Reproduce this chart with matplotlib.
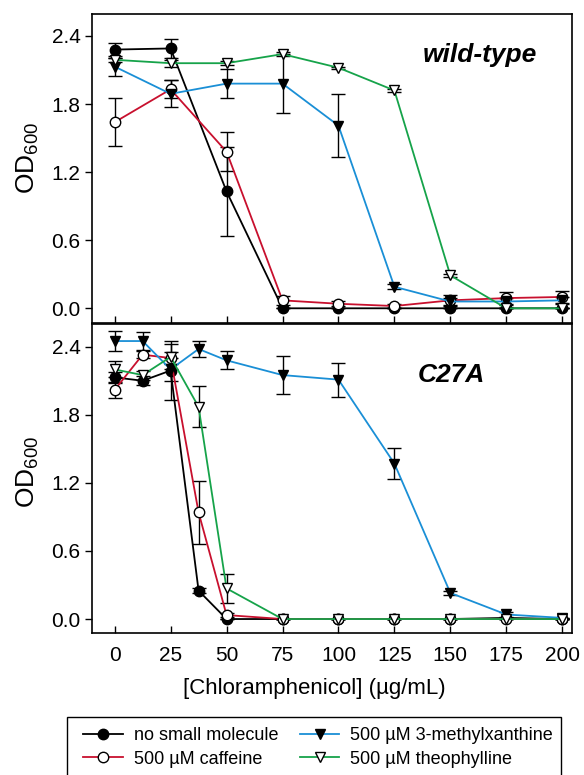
import numpy as np
import matplotlib
matplotlib.use("Agg")
import matplotlib.pyplot as plt
from matplotlib.patches import Rectangle

plt.rcParams['font.family'] = ['Liberation Sans', 'DejaVu Sans']
plt.rcParams['mathtext.fontset'] = 'custom'
plt.rcParams['mathtext.rm'] = 'Liberation Sans'

# 氯霉素浓度 (µg/mL)
x_wt = [0, 25, 50, 75, 100, 125, 150, 175, 200]
x_mut = [0, 12.5, 25, 37.5, 50, 75, 100, 125, 150, 175, 200]

# wild-type 数据
wt_none = [2.28, 2.29, 1.03, 0.0, 0.0, 0.0, 0.0, 0.0, 0.0]
wt_none_err = [0.06, 0.08, 0.39, 0.0, 0.0, 0.0, 0.0, 0.0, 0.0]
wt_caff = [1.64, 1.93, 1.38, 0.07, 0.04, 0.02, 0.07, 0.09, 0.10]
wt_caff_err = [0.21, 0.08, 0.17, 0.04, 0.02, 0.02, 0.05, 0.05, 0.05]
wt_3mx = [2.13, 1.89, 1.98, 1.98, 1.61, 0.19, 0.06, 0.06, 0.07]
wt_3mx_err = [0.08, 0.12, 0.13, 0.26, 0.28, 0.02, 0.03, 0.03, 0.03]
wt_theo = [2.19, 2.16, 2.16, 2.24, 2.12, 1.92, 0.29, 0.0, 0.0]
wt_theo_err = [0.02, 0.03, 0.02, 0.02, 0.01, 0.01, 0.01, 0.0, 0.0]

# C27A 数据
mut_none = [2.13, 2.10, 2.19, 0.25, 0.0, 0.0, 0.0, 0.0, 0.0, 0.01, 0.0]
mut_none_err = [0.05, 0.04, 0.26, 0.02, 0.0, 0.0, 0.0, 0.0, 0.0, 0.0, 0.0]
mut_caff = [2.02, 2.33, 2.30, 0.94, 0.035, 0.0, 0.0, 0.0, 0.0, 0.0, 0.0]
mut_caff_err = [0.07, 0.03, 0.05, 0.28, 0.02, 0.0, 0.0, 0.0, 0.0, 0.0, 0.0]
mut_3mx = [2.45, 2.45, 2.20, 2.38, 2.28, 2.15, 2.11, 1.37, 0.23, 0.04, 0.01]
mut_3mx_err = [0.085, 0.08, 0.1, 0.07, 0.08, 0.17, 0.15, 0.14, 0.02, 0.02, 0.0]
mut_theo = [2.20, 2.15, 2.31, 1.87, 0.27, 0.0, 0.0, 0.0, 0.0, 0.0, 0.0]
mut_theo_err = [0.07, 0.04, 0.11, 0.18, 0.13, 0.0, 0.0, 0.0, 0.0, 0.0, 0.0]

labels = ['no small molecule', '500 \u00b5M caffeine',
          '500 \u00b5M 3-methylxanthine', '500 \u00b5M theophylline']
colors = ['#000000', '#c8102e', '#1a8fd6', '#16a34a']
markers = ['o', 'o', 'v', 'v']
faces = ['black', 'white', 'black', 'white']

yticks = [0.0, 0.6, 1.2, 1.8, 2.4]
xticks = [0, 25, 50, 75, 100, 125, 150, 175, 200]

fig = plt.figure(figsize=(5.84, 7.75), dpi=100)
ax1 = fig.add_axes([0.158, 0.5836, 0.822, 0.3984])
ax2 = fig.add_axes([0.158, 0.1828, 0.822, 0.3991])


def draw_panel(ax, xs, series, errs, ylim, name, name_xy):
    handles = []
    for ys, es in zip(series, errs):
        ax.errorbar(xs, ys, yerr=es, fmt='none', ecolor='black',
                    elinewidth=1.0, capsize=5, capthick=1.0, zorder=2)
    for i, ys in enumerate(series):
        h, = ax.plot(xs, ys, color=colors[i], lw=1.3, marker=markers[i],
                     markersize=7.5, markerfacecolor=faces[i],
                     markeredgecolor='black', markeredgewidth=1.0,
                     zorder=3 + i, label=labels[i])
        handles.append(h)
    ax.set_xlim(-10, 204.5)
    ax.set_ylim(*ylim)
    ax.set_yticks(yticks)
    ax.set_yticklabels([f"{v:.1f}" for v in yticks])
    ax.set_xticks(xticks)
    ax.tick_params(axis='x', direction='in', length=5, width=1.0,
                   labelsize=15, pad=9)
    ax.tick_params(axis='y', direction='out', length=5, width=1.0, labelsize=15)
    for s in ax.spines.values():
        s.set_linewidth(1.2)
    ax.set_ylabel('OD$_{600}$', fontsize=19)
    ax.text(name_xy[0], name_xy[1], name, transform=ax.transAxes,
            fontsize=19, fontweight='bold', fontstyle='italic',
            ha='center', va='center')
    return handles


draw_panel(ax1, x_wt, [wt_none, wt_caff, wt_3mx, wt_theo],
           [wt_none_err, wt_caff_err, wt_3mx_err, wt_theo_err],
           (-0.127, 2.594), 'wild-type', (0.808, 0.867))
ax1.tick_params(axis='x', labelbottom=False)
ax1.yaxis.set_label_coords(-0.107, 0.535)

handles = draw_panel(ax2, x_mut, [mut_none, mut_caff, mut_3mx, mut_theo],
                     [mut_none_err, mut_caff_err, mut_3mx_err, mut_theo_err],
                     (-0.126, 2.6), 'C27A', (0.747, 0.835))
ax2.yaxis.set_label_coords(-0.107, 0.52)
ax2.set_xlabel('[Chloramphenicol] (\u00b5g/mL)', fontsize=16)
ax2.xaxis.set_label_coords(0.462, -0.177)
ax2.xaxis.label.set_va('center')

# 图例框
fig.patches.append(Rectangle((67 / 584, -0.02), (561 - 67) / 584, 0.02 + 58 / 775,
                             transform=fig.transFigure, fill=False,
                             edgecolor='black', linewidth=1.0))
fig.legend(handles, labels, ncol=2, frameon=False,
           loc='upper left', bbox_to_anchor=(83 / 584, 1 - 727 / 775),
           fontsize=13, handlelength=2.2, handletextpad=0.6,
           columnspacing=1.2, labelspacing=0.36, borderaxespad=0,
           borderpad=0)

fig.savefig('out.png', dpi=100)
